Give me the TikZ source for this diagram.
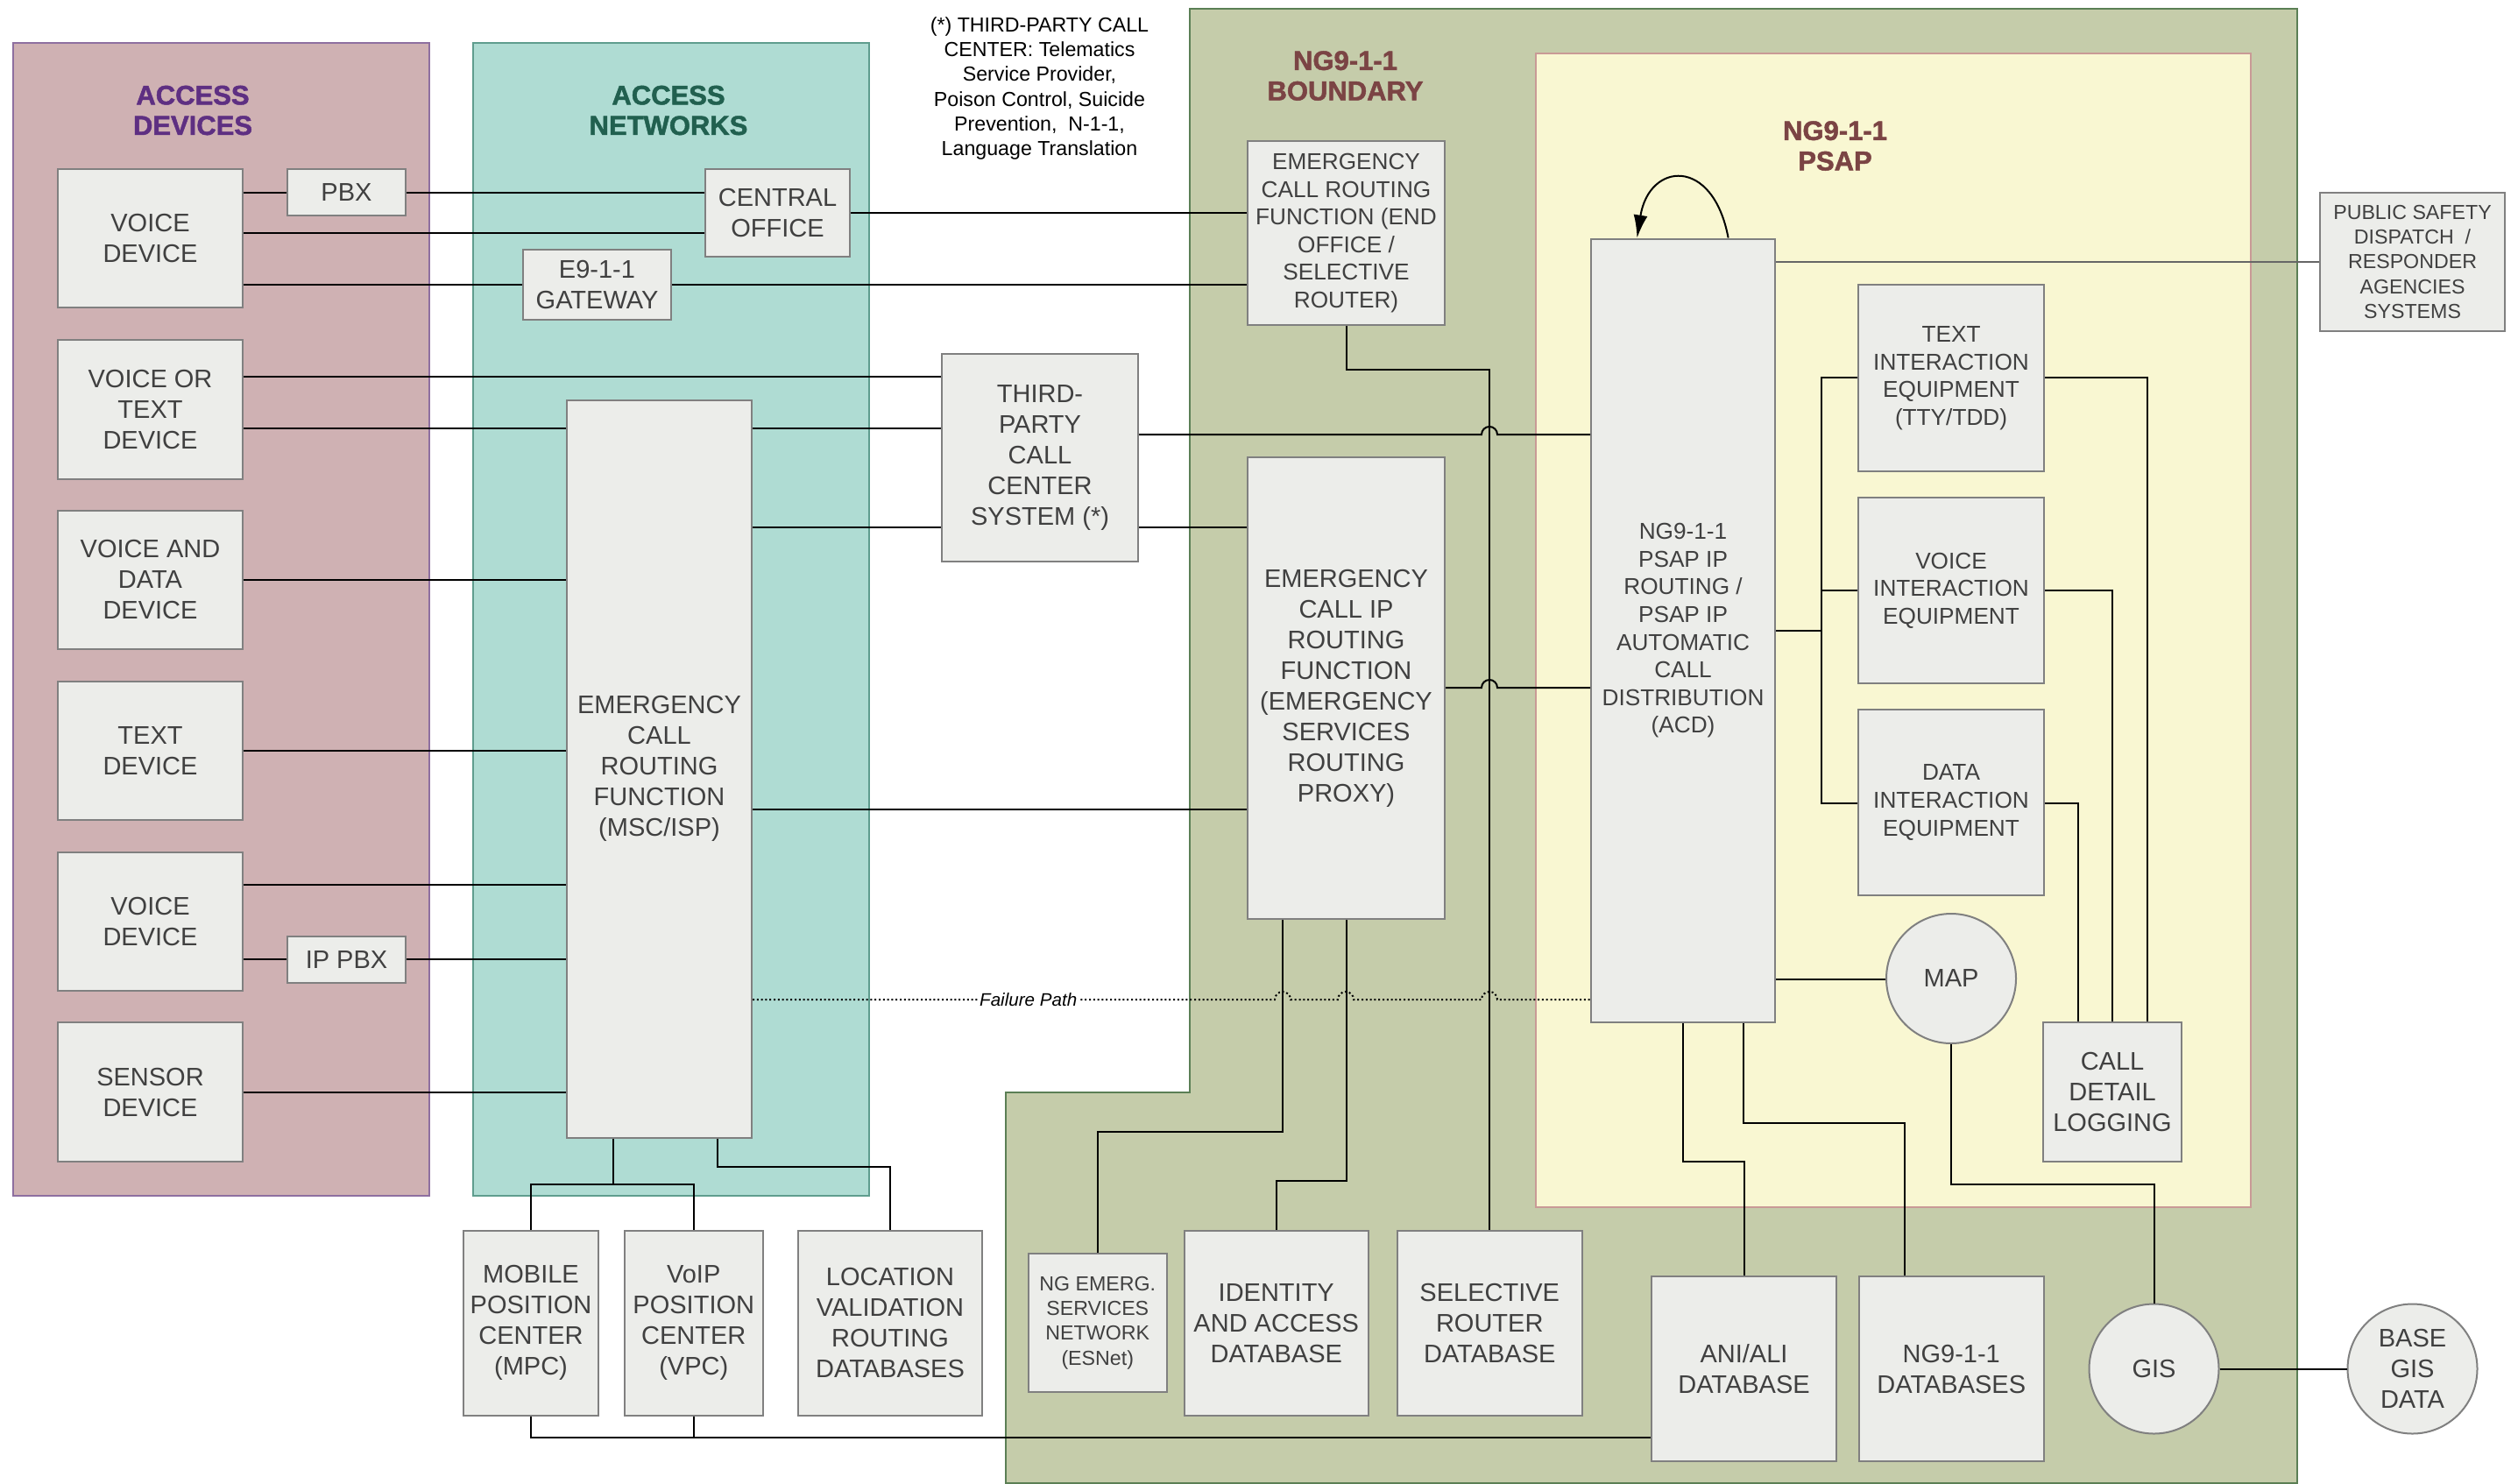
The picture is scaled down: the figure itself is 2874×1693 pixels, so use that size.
\documentclass[tikz,border=0pt]{standalone}
\usepackage{fontspec}
\setmainfont{Liberation Sans}
\newfontfamily\titlefont{Liberation Sans}[BoldFeatures={FakeBold=1.6}]
\usetikzlibrary{arrows.meta}
\definecolor{devfill}{HTML}{CFB1B3}
\definecolor{devborder}{HTML}{8E6FA0}
\definecolor{netfill}{HTML}{AFDCD3}
\definecolor{netborder}{HTML}{5F9D8E}
\definecolor{ngfill}{HTML}{C5CCAA}
\definecolor{ngborder}{HTML}{5B7F55}
\definecolor{psapfill}{HTML}{F9F7D2}
\definecolor{psapborder}{HTML}{C99A96}
\definecolor{boxfill}{HTML}{ECEDEA}
\definecolor{boxborder}{HTML}{808080}
\definecolor{txt}{HTML}{404040}
\definecolor{purpletitle}{HTML}{5E2F82}
\definecolor{greentitle}{HTML}{21604F}
\definecolor{browntitle}{HTML}{7B4444}
\newcommand\gbox[7][]{\node[box,#1,minimum width={(#5-#3)*0.5pt},minimum height={(#6-#4)*0.5pt}] (#2) at ({(#3+#5)/2},{(#4+#6)/2}) {#7};}
\begin{document}
\begin{tikzpicture}[x=0.5pt,y=-0.5pt,
  box/.style={draw=boxborder,fill=boxfill,line width=1pt,text=txt,align=center,inner sep=0pt,font=\fontsize{14.5}{17.5}\selectfont},
  small/.style={font=\fontsize{13.1}{15.8}\selectfont},
  tiny/.style={font=\fontsize{11.6}{14.1}\selectfont},
  rnd/.style={box,circle,minimum size=74pt},
  conn/.style={draw=black,line width=1pt},
  fail/.style={draw=black,line width=1pt,dash pattern=on 1pt off 1.4pt},
  title/.style={align=center,font=\titlefont\bfseries\fontsize{15.5}{17.3}\selectfont},
  panel/.style={line width=0.6pt}]
\useasboundingbox (0,0) rectangle (2874,1693);
% panels
\path[panel,fill=devfill,draw=devborder] (15,49) rectangle (490,1365);
\path[panel,fill=netfill,draw=netborder] (540,49) rectangle (992,1365);
\path[panel,fill=ngfill,draw=ngborder] (1358,10) -- (2622,10) -- (2622,1693) -- (1148,1693) -- (1148,1247) -- (1358,1247) -- cycle;
\path[panel,fill=psapfill,draw=psapborder] (1753,61) rectangle (2569,1378);
% titles
\node[title,text=purpletitle] (tdev) at (220,126) {ACCESS\\DEVICES};
\node[title,text=greentitle] (tnet) at (763,126) {ACCESS\\NETWORKS};
\node[title,text=browntitle] (tng) at (1535.5,86.5) {NG9-1-1\\BOUNDARY};
\node[title,text=browntitle] (tpsap) at (2094.5,166.5) {NG9-1-1\\PSAP};
\node[align=center,font=\fontsize{11.6}{14.15}\selectfont] (note) at (1186.5,101) {(*) THIRD-PARTY CALL\\CENTER: Telematics\\Service Provider,\\Poison Control, Suicide\\Prevention,\ \ N-1-1,\\Language Translation};
% access devices
\gbox{voice1}{66}{193}{277}{351}{VOICE\\DEVICE}
\gbox{pbx}{328}{193}{463}{246}{PBX}
\gbox{vtext}{66}{388}{277}{546.5}{VOICE OR\\TEXT\\DEVICE}
\gbox{vdata}{66}{583}{277}{741}{VOICE AND\\DATA\\DEVICE}
\gbox{textdev}{66}{778}{277}{936}{TEXT\\DEVICE}
\gbox{voice2}{66}{973}{277}{1131}{VOICE\\DEVICE}
\gbox{ippbx}{328}{1069}{463}{1122}{IP PBX}
\gbox{sensor}{66}{1167}{277}{1326}{SENSOR\\DEVICE}
% access networks
\gbox{co}{805}{193}{970}{293}{CENTRAL\\OFFICE}
\gbox{gw}{597}{285}{766}{365}{E9-1-1\\GATEWAY}
\gbox{msc}{647}{456.5}{858}{1299}{EMERGENCY\\CALL\\ROUTING\\FUNCTION\\(MSC/ISP)}
\gbox{tp}{1075}{404}{1299}{641}{THIRD-\\PARTY\\CALL\\CENTER\\SYSTEM (*)}
% boundary
\gbox[small]{ecrf}{1424}{161}{1649}{371}{EMERGENCY\\CALL ROUTING\\FUNCTION (END\\OFFICE /\\SELECTIVE\\ROUTER)}
\gbox{ecirf}{1424}{522}{1649}{1049}{EMERGENCY\\CALL IP\\ROUTING\\FUNCTION\\(EMERGENCY\\SERVICES\\ROUTING\\PROXY)}
% psap
\gbox[small]{acd}{1816}{272.5}{2026}{1167}{NG9-1-1\\PSAP IP\\ROUTING /\\PSAP IP\\AUTOMATIC\\CALL\\DISTRIBUTION\\(ACD)}
\gbox[small]{tie}{2121}{325}{2333}{538}{TEXT\\INTERACTION\\EQUIPMENT\\(TTY/TDD)}
\gbox[small]{vie}{2121}{568}{2333}{780}{VOICE\\INTERACTION\\EQUIPMENT}
\gbox[small]{die}{2121}{810}{2333}{1022}{DATA\\INTERACTION\\EQUIPMENT}
\gbox{cdl}{2332}{1167}{2490}{1326}{CALL\\DETAIL\\LOGGING}
\node[rnd] (map) at (2227,1117) {MAP};
\gbox[tiny]{psd}{2648}{220}{2859}{378}{PUBLIC SAFETY\\DISPATCH\ \ /\\RESPONDER\\AGENCIES\\SYSTEMS}
% bottom
\gbox{mpc}{529}{1404.5}{683}{1616}{MOBILE\\POSITION\\CENTER\\(MPC)}
\gbox{vpc}{712.5}{1404.5}{871}{1616}{VoIP\\POSITION\\CENTER\\(VPC)}
\gbox{lvrd}{911}{1404.5}{1121}{1616}{LOCATION\\VALIDATION\\ROUTING\\DATABASES}
\gbox[tiny]{esnet}{1173.5}{1431}{1332}{1589}{NG EMERG.\\SERVICES\\NETWORK\\(ESNet)}
\gbox{idb}{1351.5}{1404.5}{1562}{1616}{IDENTITY\\AND ACCESS\\DATABASE}
\gbox{srdb}{1595}{1404.5}{1805.5}{1616}{SELECTIVE\\ROUTER\\DATABASE}
\gbox{anali}{1885}{1457}{2096}{1668}{ANI/ALI\\DATABASE}
\gbox{ngdb}{2122}{1457}{2332.5}{1668}{NG9-1-1\\DATABASES}
\node[rnd] (gis) at (2458.5,1562.5) {GIS};
\node[rnd] (base) at (2753.5,1562.5) {BASE\\GIS\\DATA};
% connectors: devices
\draw[conn] (voice1.east |- 0,220) -- (pbx.west |- 0,220);
\draw[conn] (pbx.east |- 0,220) -- (co.west |- 0,220);
\draw[conn] (voice1.east |- 0,266) -- (co.west |- 0,266);
\draw[conn] (voice1.east |- 0,325) -- (gw.west |- 0,325);
\draw[conn] (gw.east |- 0,325) -- (ecrf.west |- 0,325);
\draw[conn] (co.east |- 0,243) -- (ecrf.west |- 0,243);
\draw[conn] (vtext.east |- 0,430) -- (tp.west |- 0,430);
\draw[conn] (vtext.east |- 0,489) -- (msc.west |- 0,489);
\draw[conn] (vdata.east |- 0,662) -- (msc.west |- 0,662);
\draw[conn] (textdev.east |- 0,857) -- (msc.west |- 0,857);
\draw[conn] (voice2.east |- 0,1010) -- (msc.west |- 0,1010);
\draw[conn] (voice2.east |- 0,1095) -- (ippbx.west |- 0,1095);
\draw[conn] (ippbx.east |- 0,1095) -- (msc.west |- 0,1095);
\draw[conn] (sensor.east |- 0,1247) -- (msc.west |- 0,1247);
% msc
\draw[conn] (msc.east |- 0,489) -- (tp.west |- 0,489);
\draw[conn] (msc.east |- 0,602) -- (tp.west |- 0,602);
\draw[conn] (tp.east |- 0,602) -- (ecirf.west |- 0,602);
\draw[conn] (msc.east |- 0,924) -- (ecirf.west |- 0,924);
\draw[conn] (msc.south -| 700,0) -- (700,1352);
\draw[conn] (mpc.north) -- (mpc.north |- 0,1352) -- (vpc.north |- 0,1352) -- (vpc.north);
\draw[conn] (msc.south -| 819,0) -- (819,1332) -| (lvrd.north);
\draw[conn] (mpc.south) -- (mpc.south |- 0,1641) -- (anali.west |- 0,1641);
\draw[conn] (vpc.south) -- (vpc.south |- 0,1641);
% third party & routing
\draw[conn] (tp.east |- 0,496) -- (1691,496) arc[start angle=180,end angle=0,radius=4.5pt] -- (acd.west |- 0,496);
\draw[conn] (ecirf.east |- 0,785) -- (1691,785) arc[start angle=180,end angle=0,radius=4.5pt] -- (acd.west |- 0,785);
\draw[conn] (ecrf.south) -- ++(0,50) -| (srdb.north);
\draw[conn] (ecirf.south -| 1464,0) -- (1464,1292) -| (esnet.north);
\draw[conn] (ecirf.south) -- (ecirf.south |- 0,1348) -| (idb.north);
% failure path
\draw[fail] (msc.east |- 0,1141) -- node[pos=0.528,fill=white,inner sep=1pt,font=\itshape\fontsize{10.3}{12}\selectfont] (fp) {Failure Path} (1455,1141)
  arc[start angle=180,end angle=0,radius=4.5pt] -- (1527,1141)
  arc[start angle=180,end angle=0,radius=4.5pt] -- (1691,1141)
  arc[start angle=180,end angle=0,radius=4.5pt] -- (acd.west |- 0,1141);
% psap internals
\draw[conn,-{Latex[length=13pt,width=8pt]}] (acd.north -| 1972.6,0) .. controls (1955,178) and (1882,185) .. (acd.north -| 1868.5,0);
\draw[line width=1pt,draw=black!60] (acd.east |- 0,298.5) -- (psd.west |- 0,298.5);
\draw[conn] (acd.east |- 0,720) -- (2079,720);
\draw[conn] (tie.west |- 0,431) -- (2079,431) -- (2079,917) -- (die.west |- 0,917);
\draw[conn] (2079,674) -- (vie.west |- 0,674);
\draw[conn] (tie.east |- 0,431) -- (2450.5,431) -- (cdl.north -| 2450.5,0);
\draw[conn] (vie.east |- 0,674) -- (2411,674) -- (cdl.north -| 2411,0);
\draw[conn] (die.east |- 0,917) -- (2372,917) -- (cdl.north -| 2372,0);
\draw[conn] (acd.east |- 0,1118) -- (map.west |- 0,1118);
\draw[conn] (acd.south -| 1920.5,0) -- (1920.5,1326) -| (anali.north);
\draw[conn] (acd.south -| 1990,0) -- (1990,1282) -- (2174,1282) -- (ngdb.north -| 2174,0);
\draw[conn] (map.south) -- (map.south |- 0,1352) -| (gis.north);
\draw[conn] (gis.east) -- (base.west);
\end{tikzpicture}
\end{document}
